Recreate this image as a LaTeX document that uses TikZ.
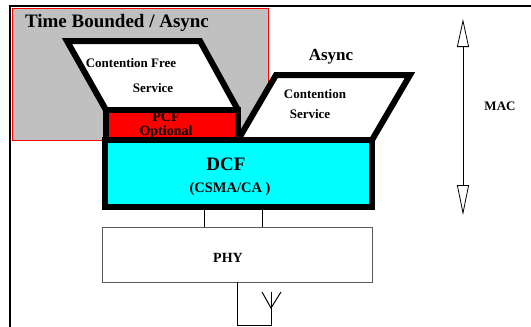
\documentclass[tikz,border=0pt]{standalone}
\usepackage{fontspec}
\setmainfont{Liberation Serif}
\usetikzlibrary{arrows.meta}
\definecolor{panelgray}{HTML}{C0C0C0}
\definecolor{pcfred}{HTML}{FF0000}
\definecolor{dcfcyan}{HTML}{00FFFF}
\tikzset{
  heavy/.style={draw=black, line width=6pt, line join=miter},
  block/.style={heavy, rectangle, inner sep=0pt, outer sep=0pt},
  lbl/.style={inner sep=0pt, font=\bfseries},
  thin/.style={draw=black, line width=1pt},
}
\begin{document}
\begin{tikzpicture}[x=1pt, y=-1pt]
\useasboundingbox (0,0) rectangle (531,327);
\fill[white] (0,0) rectangle (531,327);

% outer frame (top and left edges)
\coordinate (fr0) at (10,327);
\coordinate (fr1) at (10,6);
\coordinate (fr2) at (531,6);
\draw[line width=1.2pt] (fr0) -- (fr1) -- (fr2);

% time-bounded region
\node[rectangle, fill=panelgray, draw=red, line width=1pt, inner sep=0pt,
      minimum width=256pt, minimum height=132pt] (tb) at (140,74) {};
\node[lbl, font=\bfseries\fontsize{19}{19}\selectfont, anchor=base] (tbl) at (117,27) {Time Bounded / Async};

% contention free service (left tray); its bottom edge is the top of PCF
\coordinate (cfa) at (67,41);
\coordinate (cfb) at (200,41);
\coordinate (cfc) at (238,110);
\coordinate (cfd) at (106,110);
\fill[white] (cfa) -- (cfb) -- (cfc) -- (cfd) -- cycle;
\draw[heavy] (cfd) -- (cfa) -- (cfb) -- (cfc);
\node[lbl, font=\bfseries\fontsize{13}{13}\selectfont, anchor=base] (cf1) at (131,67) {Contention Free};
\node[lbl, font=\bfseries\fontsize{13}{13}\selectfont, anchor=base] (cf2) at (153,92) {Service};

% contention service (right tray); its bottom edge is the top of DCF
\coordinate (csa) at (276,75);
\coordinate (csb) at (410,75);
\coordinate (csc) at (372,140);
\coordinate (csd) at (238,140);
\fill[white] (csa) -- (csb) -- (csc) -- (csd) -- cycle;
\draw[heavy] (csd) -- (csa) -- (csb) -- (csc);
\node[lbl, font=\bfseries\fontsize{17}{17}\selectfont, anchor=base] (asy) at (331,60) {Async};
\node[lbl, font=\bfseries\fontsize{13}{13}\selectfont, anchor=base] (cs1) at (315,98) {Contention};
\node[lbl, font=\bfseries\fontsize{13}{13}\selectfont, anchor=base] (cs2) at (310,118) {Service};

% PCF
\node[block, fill=pcfred, minimum width=132pt, minimum height=30pt] (pcf) at (172,125) {};
\node[lbl, font=\bfseries\fontsize{14}{14}\selectfont, anchor=base] (pcf1) at (166,121.5) {PCF};
\node[lbl, font=\bfseries\fontsize{14}{14}\selectfont, anchor=base] (pcf2) at (166,135) {Optional};

% DCF
\node[block, fill=dcfcyan, minimum width=267pt, minimum height=67pt] (dcf) at (238.5,173.5) {};
\node[lbl, font=\bfseries\fontsize{19}{19}\selectfont, anchor=base] (dcf1) at (226,170) {DCF};
\node[lbl, font=\bfseries\fontsize{14.5}{14.5}\selectfont, anchor=base] (dcf2) at (230,192) {(CSMA/CA )};

% PHY
\node[rectangle, draw=black!65, line width=1pt, inner sep=0pt, outer sep=0pt,
      minimum width=270pt, minimum height=55pt] (phy) at (237,254.5) {};
\node[lbl, font=\bfseries\fontsize{14}{14}\selectfont, anchor=base] (phyl) at (228,262) {PHY};

% service access points between DCF and PHY
\coordinate (sap1) at (204,0);
\coordinate (sap2) at (262,0);
\draw[thin] (dcf.south -| sap1) -- (phy.north -| sap1);
\draw[thin] (dcf.south -| sap2) -- (phy.north -| sap2);

% antenna
\coordinate (an0) at (237,0);
\coordinate (an1) at (237,325);
\coordinate (an2) at (271,325);
\coordinate (an3) at (271,292);
\coordinate (av) at (271,308);
\coordinate (avl) at (262,292);
\coordinate (avr) at (281,292);
\draw[thin] (phy.south -| an0) -- (an1) -- (an2) -- (an3);
\draw[thin] (avl) -- (av) -- (avr);

% MAC extent
\coordinate (mact) at (463,19);
\coordinate (macb) at (463,215);
\draw[line width=0.8pt, {Triangle[open, length=28pt, width=12pt]}-{Triangle[open, length=30pt, width=12pt]}] (mact) -- (macb);
\node[lbl, font=\bfseries\fontsize{13}{13}\selectfont, anchor=base] (mac) at (500,110) {MAC};
\end{tikzpicture}
\end{document}
